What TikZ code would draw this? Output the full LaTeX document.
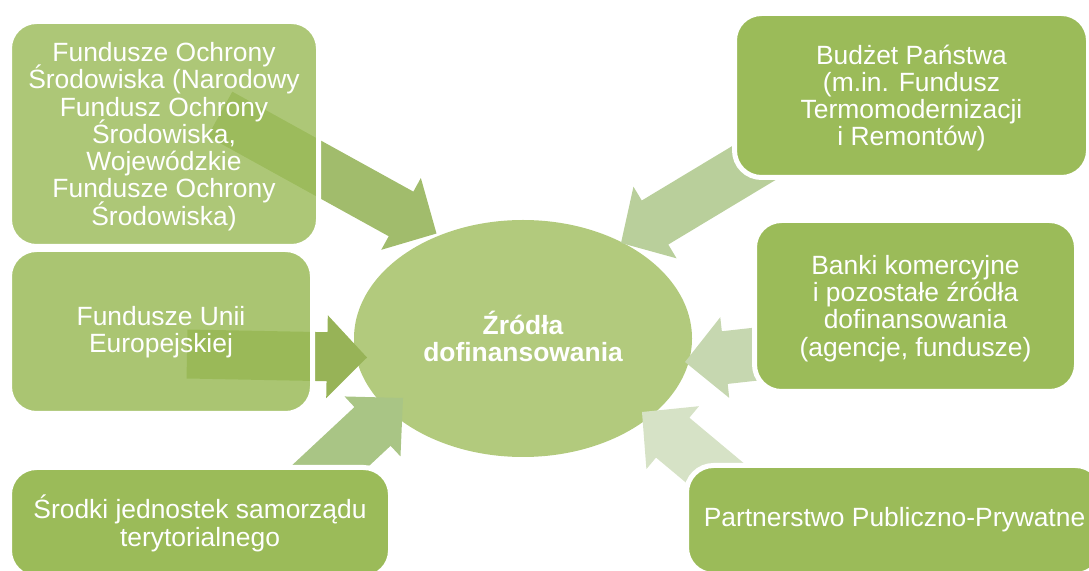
\documentclass[tikz,border=0pt]{standalone}
\usepackage{fontspec}
\setmainfont{Liberation Sans}
\usetikzlibrary{calc,shapes.geometric}
\definecolor{boxgreen}{HTML}{9BBB59}
\definecolor{ellgreen}{HTML}{B2CA7D}
\definecolor{arrA}{HTML}{A1BC6C}
\definecolor{arrB}{HTML}{B9CF9B}
\definecolor{arrC}{HTML}{97B357}
\definecolor{arrD}{HTML}{A9C585}
\definecolor{arrE}{HTML}{C6D7B0}
\definecolor{arrF}{HTML}{D6E2C6}
\newcommand\diagfont{\fontsize{26.4}{27.3}\selectfont\setlength{\lineskiplimit}{-40pt}\setlength{\lineskip}{0pt}}
\tikzset{
  srcbox/.style={rectangle, rounded corners=27pt, fill=boxgreen, draw=white,
    line width=5pt, inner sep=0pt},
  srctext/.style={text=white, align=center, inner sep=0pt, font=\diagfont},
  hubnode/.style={ellipse, fill=ellgreen, inner sep=0pt},
  hubtext/.style={text=white, align=center, inner sep=0pt, font=\diagfont\bfseries},
}
% #1 colour, #2 tail, #3 tip, #4 shaft half-width, #5 head half-width, #6 head length
\newcommand\bigarrow[6]{%
  \coordinate (nn) at ($(#3)!#6pt!(#2)$);
  \fill[#1] ($(#2)!#4pt!90:(#3)$) -- ($(nn)!#4pt!90:(#3)$) -- ($(nn)!#5pt!90:(#3)$)
    -- (#3) -- ($(nn)!#5pt!-90:(#3)$) -- ($(nn)!#4pt!-90:(#3)$)
    -- ($(#2)!#4pt!-90:(#3)$) -- cycle;
}
\begin{document}
\begin{tikzpicture}[x=1pt,y=1pt]
\useasboundingbox (0,0) rectangle (1089,570);
\clip (0,0) rectangle (1089,570);

% hub
\node[hubnode, minimum width=338pt, minimum height=237pt] (hub) at (523,231.5) {};
\node[hubtext] (hubt) at ([yshift=2pt]hub.center) {Źródła\\dofinansowania};

% arrow end points
\coordinate (t1) at (220,456);   \coordinate (p1) at (436.5,336.5);
\coordinate (t2) at (832,454);   \coordinate (p2) at (621,327);
\coordinate (t3) at (187,216);   \coordinate (p3) at (367,212.5);
\coordinate (t4) at (299,75);    \coordinate (p4) at (403,172);
\coordinate (t5) at (874,229);   \coordinate (p5) at (685,208);
\coordinate (t6) at (787.5,36.4);\coordinate (p6) at (642,158);

\bigarrow{arrA}{t1}{p1}{25.5}{41}{40.5}
\bigarrow{arrB}{t2}{p2}{25.7}{41.8}{39.7}
\bigarrow{arrC}{t3}{p3}{24.5}{41.5}{40}
\bigarrow{arrD}{t4}{p4}{26.5}{41}{41.7}
\bigarrow{arrE}{t5}{p5}{26.5}{40.6}{40}
\bigarrow{arrF}{t6}{p6}{26}{41}{40}

% source boxes
\node[srcbox, fill opacity=0.82, minimum width=309pt, minimum height=225pt] (b1) at (164,436) {};
\node[srcbox, fill opacity=0.85, minimum width=303pt, minimum height=164pt] (b2) at (161,238.5) {};
\node[srcbox, minimum width=381pt, minimum height=110pt] (b3) at (200,47.5) {};
\node[srcbox, minimum width=354pt, minimum height=164pt] (b4) at (911.5,474.5) {};
\node[srcbox, minimum width=322pt, minimum height=171pt] (b5) at (915.5,264) {};
\node[srcbox, minimum width=416pt, minimum height=109pt] (b6) at (894.5,50) {};

% box texts
\node[srctext] (b1t) at ([yshift=-2.5pt]b1.center)
  {Fundusze Ochrony\\Środowiska (Narodowy\\Fundusz Ochrony\\Środowiska,\\Wojewódzkie\\Fundusze Ochrony\\Środowiska)};
\node[srctext] (b2t) at ([yshift=-1pt]b2.center) {Fundusze Unii\\Europejskiej};
\node[srctext] (b3t) at ([yshift=-1pt]b3.center) {Środki jednostek samorządu\\terytorialnego};
\node[srctext] (b4t) at ([yshift=-2.5pt]b4.center)
  {Budżet Państwa\\(m.in. Fundusz\\Termomodernizacji\\i Remontów)};
\node[srctext] (b5t) at ([yshift=-2.5pt]b5.center)
  {Banki komercyjne\\i pozostałe źródła\\dofinansowania\\(agencje, fundusze)};
\node[srctext] (b6t) at (b6.center) {Partnerstwo Publiczno-Prywatne};
\end{tikzpicture}
\end{document}
